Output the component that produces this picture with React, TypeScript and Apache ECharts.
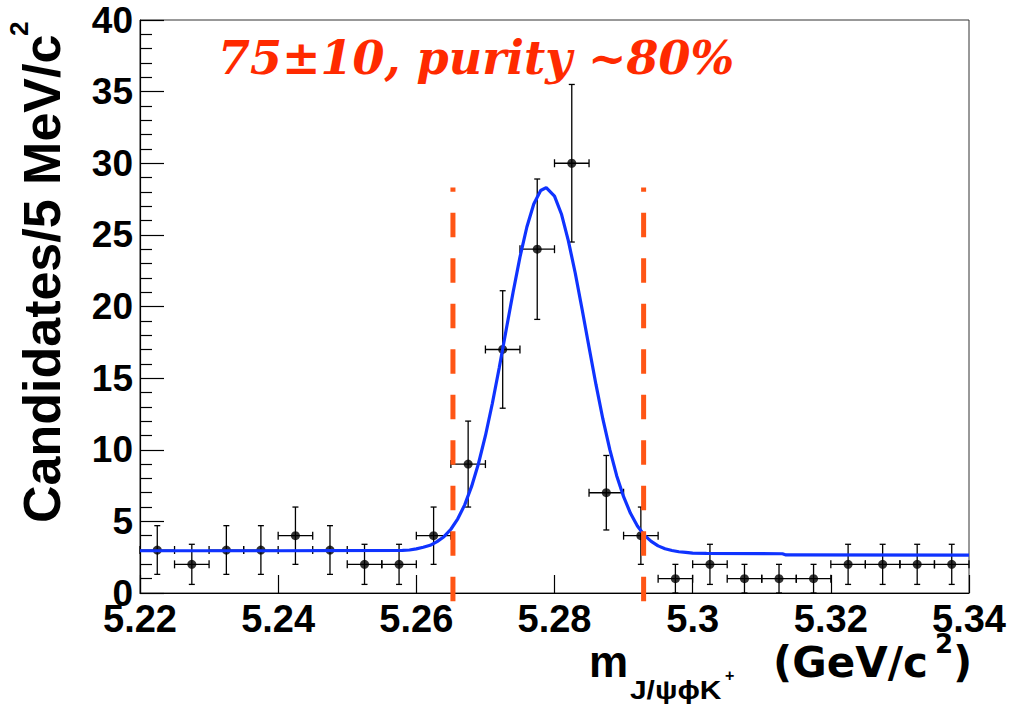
import React, { useEffect, useRef } from "react";
import * as echarts from "echarts";

// Bin centres (GeV/c^2), 5 MeV bins
const massCenters = [
  5.2225, 5.2275, 5.2325, 5.2375, 5.2425, 5.2475, 5.2525, 5.2575, 5.2625, 5.2675, 5.2725, 5.2775,
  5.2825, 5.2875, 5.2925, 5.2975, 5.3025, 5.3075, 5.3125, 5.3175, 5.3225, 5.3275, 5.3325, 5.3375,
];
const candidates = [3, 2, 3, 3, 4, 3, 2, 2, 4, 9, 17, 24, 30, 7, 4, 1, 2, 1, 1, 1, 2, 2, 2, 2];
const candErrors = [
  1.7, 1.4, 1.7, 1.7, 2, 1.7, 1.4, 1.4, 2, 3, 4.1, 4.9, 5.5, 2.6, 2, 1, 1.4, 1, 1, 1, 1.4, 1.4, 1.4, 1.4,
];
const binWidth = 0.005;

// Fit curve
const fitMass = [
  5.22, 5.24, 5.258, 5.259, 5.26, 5.261, 5.262, 5.263, 5.264, 5.265, 5.266, 5.267, 5.268, 5.269, 5.27,
  5.271, 5.272, 5.273, 5.274, 5.275, 5.276, 5.277, 5.278, 5.2788, 5.28, 5.281, 5.282, 5.283, 5.284,
  5.285, 5.286, 5.287, 5.288, 5.289, 5.29, 5.291, 5.292, 5.293, 5.294, 5.295, 5.296, 5.297, 5.298,
  5.299, 5.3, 5.302, 5.313, 5.3135, 5.34,
];
const fitValue = [
  2.95, 2.95, 2.97, 3.0, 3.08, 3.19, 3.33, 3.59, 3.93, 4.45, 5.18, 6.15, 7.44, 9.04, 10.98, 13.23,
  15.72, 18.36, 20.98, 23.45, 25.55, 27.15, 28.1, 28.3, 27.71, 26.46, 24.6, 22.34, 19.79, 17.15, 14.56,
  12.15, 10.02, 8.19, 6.72, 5.56, 4.68, 4.04, 3.6, 3.29, 3.09, 2.97, 2.88, 2.83, 2.78, 2.76, 2.74,
  2.66, 2.64,
];

// Signal window edges
const windowEdges = [5.2653, 5.2929];
const windowTop = 28.3;
const windowBottom = -0.58;

const xTicks = { min: 5.22, max: 5.34, interval: 0.02 };
const yTicks = { min: 0, max: 40, interval: 5 };

export default function App() {
  const ref = useRef<HTMLDivElement>(null);
  useEffect(() => {
    if (!ref.current) return;
    const chart = echarts.init(ref.current, undefined, { renderer: "svg" });
    const points = massCenters.map((m, i) => [m, candidates[i], candErrors[i]]);
    const fit = fitMass.map((m, i) => [m, fitValue[i]]);
    const orange = "#ff5515";
    const txt = (x: number, y: number, text: string, family: string, size: number, extra: any = {}) => ({
      type: "text",
      x,
      y,
      ...extra,
      style: {
        text,
        fontFamily: family,
        fontWeight: "bold",
        fontSize: size,
        fill: "#000",
        verticalAlign: "middle",
        align: "left",
      },
    });
    const option: any = {
      animation: false,
      backgroundColor: "#ffffff",
      grid: {
        left: 140,
        top: 20,
        width: 829,
        height: 573,
        show: true,
        borderColor: "#333",
        borderWidth: 1,
        backgroundColor: "transparent",
      },
      xAxis: {
        type: "value",
        min: xTicks.min,
        max: xTicks.max,
        interval: xTicks.interval,
        axisLine: { lineStyle: { color: "#000", width: 1.2 } },
        axisTick: { inside: true, length: 18, lineStyle: { color: "#000", width: 1.2 } },
        splitLine: { show: false },
        axisLabel: {
          margin: 7,
          color: "#000",
          fontFamily: "Liberation Sans",
          fontWeight: "bold",
          fontSize: 38,
          showMinLabel: true,
          showMaxLabel: true,
          hideOverlap: false,
          formatter: (v: number) => String(parseFloat(v.toFixed(2))),
        },
      },
      yAxis: {
        type: "value",
        min: yTicks.min,
        max: yTicks.max,
        interval: yTicks.interval,
        axisLine: { show: true, lineStyle: { color: "#000", width: 1.2 } },
        axisTick: { show: true, inside: true, length: 24, lineStyle: { color: "#000", width: 1.2 } },
        minorTick: { show: true, splitNumber: 5, length: 12, lineStyle: { color: "#000", width: 1.2 } },
        splitLine: { show: false },
        axisLabel: {
          margin: 7,
          color: "#000",
          fontFamily: "Liberation Sans",
          fontWeight: "bold",
          fontSize: 37,
          showMinLabel: true,
          showMaxLabel: true,
        },
      },
      graphic: [
        {
          type: "text",
          x: 218,
          y: 58,
          z: 100,
          style: {
            text: "75±10, purity ~80%",
            fontFamily: "DejaVu Serif",
            fontStyle: "italic",
            fontWeight: "bold",
            fontSize: 46,
            fill: "#ff2a00",
            verticalAlign: "middle",
            align: "left",
          },
        },
        txt(42, 523, "Candidates/5 MeV/c", "Liberation Sans", 52, { rotation: Math.PI / 2 }),
        txt(19, 36, "2", "Liberation Sans", 26, { rotation: Math.PI / 2 }),
        txt(589, 661, "m", "Liberation Sans", 44),
        txt(630, 690, "J/ψϕK", "Liberation Sans", 26, { scaleX: 1.15 }),
        txt(725, 675, "+", "Liberation Sans", 16),
        txt(773, 662, "(GeV/c", "DejaVu Sans", 42),
        txt(935, 644, "2", "DejaVu Sans", 26),
        txt(953, 662, ")", "DejaVu Sans", 42),
      ],
      series: [
        {
          type: "custom",
          z: 2,
          data: points,
          renderItem: (params: any, api: any) => {
            const x = api.value(0);
            const y = api.value(1);
            const e = api.value(2);
            const c = api.coord([x, y]);
            const top = api.coord([x, y + e]);
            const bot = api.coord([x, Math.max(0, y - e)]);
            const l = api.coord([x - binWidth / 2, y]);
            const r = api.coord([x + binWidth / 2, y]);
            const st = { stroke: "#000", lineWidth: 1.3 };
            const ln = (x1: number, y1: number, x2: number, y2: number) => ({
              type: "line",
              shape: { x1, y1, x2, y2 },
              style: st,
            });
            return {
              type: "group",
              children: [
                ln(c[0], top[1], c[0], bot[1]),
                ln(c[0] - 3, top[1], c[0] + 3, top[1]),
                ln(c[0] - 3, bot[1], c[0] + 3, bot[1]),
                ln(l[0], c[1], r[0], c[1]),
                ln(l[0], c[1] - 4, l[0], c[1] + 4),
                ln(r[0], c[1] - 4, r[0], c[1] + 4),
              ],
            };
          },
        },
        {
          type: "scatter",
          z: 3,
          data: points.map((p) => [p[0], p[1]]),
          symbol: "circle",
          symbolSize: 9,
          itemStyle: { color: "#000" },
        },
        {
          type: "line",
          z: 4,
          data: fit,
          showSymbol: false,
          smooth: false,
          lineStyle: { color: "#0f33ff", width: 3.2 },
        },
        ...windowEdges.map((m) => ({
          type: "line",
          z: 5,
          clip: false,
          showSymbol: false,
          data: [
            [m, windowBottom],
            [m, windowTop],
          ],
          lineStyle: { color: orange, width: 5, type: [24.5, 21] },
        })),
      ],
    };
    chart.setOption(option);
    return () => chart.dispose();
  }, []);
  return (
    <div
      ref={ref}
      style={{ position: "fixed", left: 0, top: 0, width: 1012, height: 704, background: "#fff" }}
    />
  );
}
